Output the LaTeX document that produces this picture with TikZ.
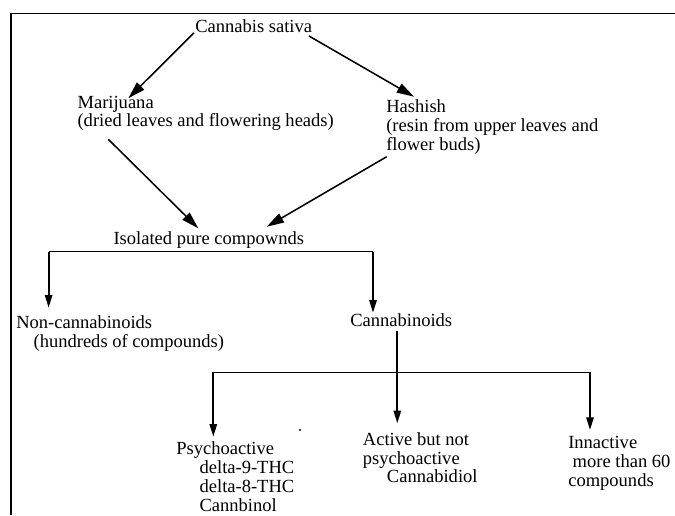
\documentclass[tikz,border=0pt]{standalone}
\usepackage{fontspec}
\setmainfont{Liberation Serif}
\usetikzlibrary{arrows.meta,calc}
\newcommand\txtblock[1]{\begin{tabular}[t]{@{}l@{}}#1\end{tabular}}
\tikzset{
  lbl/.style={inner sep=0pt, anchor=base west, font=\fontsize{13.9}{14.2}\selectfont},
  diag/.style={line width=1.15pt, -{Triangle[length=13pt,width=7.5pt]}},
  varr/.style={line width=1.4pt, -{Triangle[length=9.5pt,width=5.5pt]}},
  tee/.style={line width=0.85pt},
  frameline/.style={line width=1.1pt},
}
\begin{document}
\begin{tikzpicture}[x=0.75pt,y=-0.75pt]
\useasboundingbox (0,0) rectangle (675,515);
% frame (only left and top edges are visible)
\draw[frameline] (11,515) -- (11,13.3) -- (675,13.3);

% nodes
\node[lbl] (cs) at (195,32.3) {Cannabis sativa};
\node[lbl, font=\fontsize{13.9}{13.8}\selectfont] (mar) at (77.3,108.3)
  {\txtblock{Marijuana\\(dried leaves and flowering heads)}};
\node[lbl, font=\fontsize{13.9}{14.25}\selectfont] (hash) at (386,112)
  {\txtblock{Hashish\\(resin from upper leaves and\\flower buds)}};
\node[lbl] (iso) at (113.3,244) {Isolated pure compownds};
\node[lbl, font=\fontsize{13.9}{14.5}\selectfont] (non) at (16,328.3)
  {\txtblock{Non-cannabinoids\\\hspace*{13pt}(hundreds of compounds)}};
\node[lbl] (can) at (350,326.5) {Cannabinoids};
\node[lbl, font=\fontsize{13.9}{14.25}\selectfont] (psy) at (176,454)
  {\txtblock{Psychoactive\\\hspace*{17.5pt}delta-9-THC\\\hspace*{17.5pt}delta-8-THC\\\hspace*{17.5pt}Cannbinol}};
\node[lbl, font=\fontsize{13.9}{14}\selectfont] (act) at (362.7,445.5)
  {\txtblock{Active but not\\psychoactive\\\hspace*{18pt}Cannabidiol}};
\node[lbl, font=\fontsize{13.9}{14.4}\selectfont] (inn) at (568,448.3)
  {\txtblock{Innactive\\\hspace*{3.3pt}more than 60\\compounds}};

% diagonal arrows
\draw[diag] ($(cs.base west)+(-1,0.5)$) -- ($(mar.base west)+(51,-10)$);
\draw[diag] ($(cs.base east)+(-3.4,3.7)$) -- ($(hash.base west)+(28,-15.3)$);
\draw[diag] ($(mar.base west)+(31,31)$) -- ($(iso.base west)+(85,-15.7)$);
\draw[diag] ($(hash.base west)+(0.7,44.7)$) -- ($(iso.base west)+(153.4,-17.3)$);

% first branching
\coordinate (t1l) at (48.6,251.7);
\coordinate (t1r) at (373,251.7);
\draw[tee] (t1l) -- (t1r);
\draw[varr] (t1l) -- ($(t1l |- non.base west)+(0,-20.6)$);
\draw[varr] (t1r) -- ($(t1r |- can.base west)+(0,-13.8)$);

% second branching
\coordinate (cdown) at ($(can.base west)+(47.3,4.2)$);
\coordinate (t2l) at (213.3,372.3);
\coordinate (t2r) at (590,372.3);
\draw[tee] (t2l) -- (t2r);
\draw[varr] (cdown) -- ($(cdown |- act.base west)+(0,-22.2)$);
\draw[varr] (t2l) -- ($(t2l |- psy.base west)+(0,-17.3)$);
\draw[varr] (t2r) -- ($(t2r |- inn.base west)+(0,-18.3)$);

% stray dot visible in the picture
\fill (300,430) circle (0.8pt);
\end{tikzpicture}
\end{document}
